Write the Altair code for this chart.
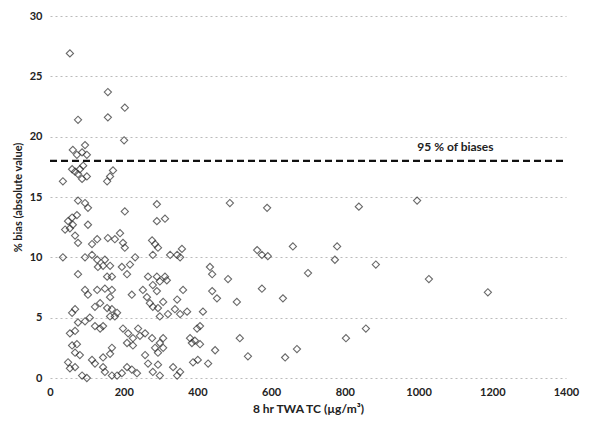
import altair as alt
import pandas as pd

# TWA TC concentration (µg/m³) and % bias (absolute value)
tc = [54, 76, 157, 157, 203, 201, 62, 73, 95, 87, 100,
      60, 68, 81, 76, 90, 35, 87, 100, 155, 163, 171,
      95, 103, 76, 290, 488, 589, 838, 996,
      203, 290, 312, 73, 60, 49, 54, 62, 41, 103, 68, 76,
      157, 176, 190, 198, 203, 128, 114, 277, 285, 293, 279, 326, 345, 358, 353,
      562, 575, 591, 659, 779, 773, 884,
      35, 95, 114, 128, 149, 144, 163, 130, 217, 231, 195, 209, 76, 155, 168, 266,
      434, 440, 483, 700, 290, 312, 1028,
      279, 298, 317, 290, 361, 440, 453, 575, 632, 1188, 95, 103, 128, 149, 168, 163, 222, 252, 263,
      507, 415, 271, 279, 307, 293, 345, 339, 372, 353, 320, 298, 136, 122, 68, 60, 155, 168, 182,
      163, 176, 108, 95, 76,
      122, 136, 144, 54, 68, 212, 225, 244, 258, 239, 198, 209, 225, 399, 407, 380, 385, 407, 393,
      307, 298, 277, 515, 857, 803,
      307, 293, 285, 448, 429, 537, 670, 638, 401, 388, 293, 279, 298, 334, 345, 353,
      60, 73, 68, 81, 168, 163, 144, 114, 122, 49, 54, 68, 144, 149, 168, 182, 195, 222, 236, 209,
      87, 100, 258, 266]
bias = [26.9, 21.4, 23.7, 21.6, 22.4, 19.7, 18.9, 18.5, 19.3, 18.7, 18.5,
        17.3, 17.1, 17.3, 16.9, 17.6, 16.3, 16.5, 16.7, 16.3, 16.7, 17.2,
        14.5, 14.1, 14.7, 14.4, 14.5, 14.1, 14.2, 14.7,
        13.8, 13.0, 13.2, 13.5, 13.3, 13.0, 12.4, 12.7, 12.3, 12.7, 11.8, 11.2,
        11.6, 11.5, 12.0, 11.2, 10.8, 11.5, 11.1, 11.4, 11.1, 10.8, 10.2, 10.2, 10.2, 10.7, 10.0,
        10.6, 10.2, 10.1, 10.9, 10.9, 9.8, 9.4,
        10.0, 10.0, 10.2, 9.8, 9.8, 9.3, 9.3, 9.2, 9.4, 10.0, 9.2, 8.6, 8.6, 8.4, 8.4, 8.4,
        9.2, 8.6, 8.2, 8.7, 8.4, 8.4, 8.2,
        7.7, 8.0, 8.1, 7.2, 7.3, 7.2, 6.6, 7.4, 6.6, 7.1, 7.3, 6.9, 7.3, 7.4, 7.3, 6.7, 6.9, 7.3, 6.7,
        6.3, 5.5, 6.2, 5.9, 6.3, 5.8, 6.5, 5.7, 5.5, 5.3, 5.3, 5.1, 6.2, 5.9, 5.7, 5.4, 5.8, 5.7, 5.4,
        5.1, 5.1, 5.0, 4.7, 4.6,
        4.3, 4.1, 4.3, 3.7, 3.9, 3.7, 3.3, 3.5, 3.7, 4.1, 4.1, 2.9, 2.7, 4.1, 4.3, 3.3, 2.9, 2.8, 3.1,
        3.3, 2.9, 3.3, 3.3, 4.1, 3.3,
        2.5, 2.1, 2.5, 2.3, 1.2, 1.8, 2.4, 1.7, 1.5, 1.3, 1.1, 0.5, 0.2, 0.9, 0.2, 0.5,
        2.7, 2.8, 2.1, 1.9, 2.5, 2.0, 1.7, 1.5, 1.2, 1.3, 0.8, 0.9, 0.9, 0.5, 0.2, 0.2, 0.4, 0.7, 0.4, 0.9,
        0.2, 0.0, 1.9, 1.2]

ref_value = [18]
ref_label = ["95 % of biases"]
ref_label_x = [1100]

pts = pd.DataFrame({"tc": tc, "bias": bias})
ref = pd.DataFrame({"y": ref_value, "x0": [0], "x1": [1400]})
lab = pd.DataFrame({"x": ref_label_x, "y": [18.6], "t": ref_label})

font = "Lato"

xs = alt.Scale(domain=[0, 1400], nice=False)
ys = alt.Scale(domain=[0, 30], nice=False)

points = alt.Chart(pts).mark_point(
    shape="diamond", filled=False, size=52, stroke="#2a2a2a", strokeWidth=1.1
).encode(
    x=alt.X("tc:Q", scale=xs,
            axis=alt.Axis(title="8 hr TWA TC (µg/m³)", values=[0, 200, 400, 600, 800, 1000, 1200, 1400],
                          format="d", grid=False, ticks=False, domain=False, labelPadding=8,
                          labelFlush=False, titlePadding=6, titleFontSize=12)),
    y=alt.Y("bias:Q", scale=ys,
            axis=alt.Axis(title="% bias (absolute value)", values=[0, 5, 10, 15, 20, 25, 30],
                          grid=True, ticks=False, domain=False, labelPadding=8, titlePadding=6,
                          titleFontSize=11)),
)

refline = alt.Chart(ref).mark_rule(color="#111111", strokeWidth=2.2, strokeDash=[7, 4]).encode(
    y="y:Q", x="x0:Q", x2="x1:Q"
)

text = alt.Chart(lab).mark_text(
    font=font, fontSize=12, fontWeight="bold", color="#222222", align="center", baseline="bottom"
).encode(x="x:Q", y="y:Q", text="t:N")

chart = alt.layer(points, refline, text).properties(
    width=516, height=362,
    autosize=alt.AutoSizeParams(type="none"),
    padding={"left": 42, "top": 8, "right": 20, "bottom": 40}
).configure_view(stroke=None).configure_axis(
    labelFont=font, titleFont=font, labelFontSize=11,
    labelFontWeight="bold", titleFontWeight="bold", labelColor="#222222", titleColor="#222222",
    gridColor="#bbbbbb", gridDash=[2, 3], gridWidth=1
)

chart.save("out.html", embed_options={"renderer": "svg", "actions": False})
